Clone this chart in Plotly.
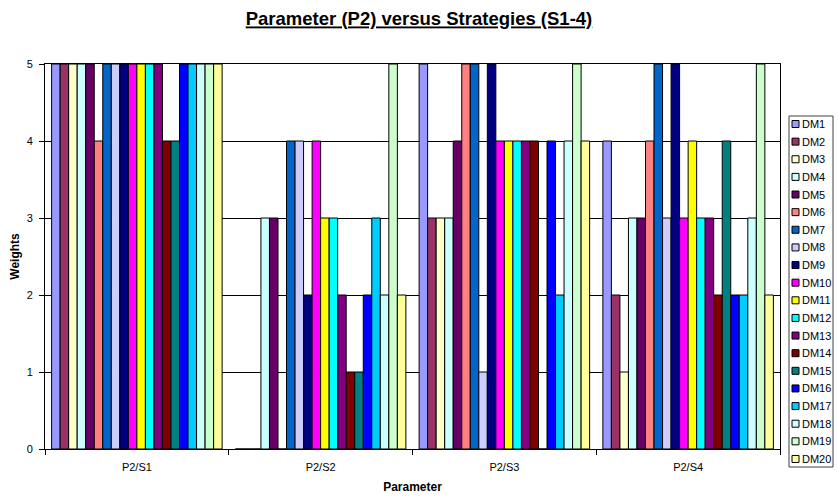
import plotly.graph_objects as go

categories = ["P2/S1", "P2/S2", "P2/S3", "P2/S4"]
series_names = [f"DM{i}" for i in range(1, 21)]

# values per DM across the four categories
DM1 = [5, 0, 5, 4]
DM2 = [5, 0, 3, 2]
DM3 = [5, 0, 3, 1]
DM4 = [5, 3, 3, 3]
DM5 = [5, 3, 4, 3]
DM6 = [4, 0, 5, 4]
DM7 = [5, 4, 5, 5]
DM8 = [5, 4, 1, 3]
DM9 = [5, 2, 5, 5]
DM10 = [5, 4, 4, 3]
DM11 = [5, 3, 4, 4]
DM12 = [5, 3, 4, 3]
DM13 = [5, 2, 4, 3]
DM14 = [4, 1, 4, 2]
DM15 = [4, 1, 0, 4]
DM16 = [5, 2, 4, 2]
DM17 = [5, 3, 2, 2]
DM18 = [5, 2, 4, 3]
DM19 = [5, 5, 5, 5]
DM20 = [5, 2, 4, 2]

series_values = [DM1, DM2, DM3, DM4, DM5, DM6, DM7, DM8, DM9, DM10,
                 DM11, DM12, DM13, DM14, DM15, DM16, DM17, DM18, DM19, DM20]

colors = ["#9999FF", "#993366", "#FFFFCC", "#CCFFFF", "#660066", "#FF8080",
          "#0066CC", "#CCCCFF", "#000080", "#FF00FF", "#FFFF00", "#00FFFF",
          "#800080", "#800000", "#008080", "#0000FF", "#00CCFF", "#CCFFFF",
          "#CCFFCC", "#FFFF99"]

FONT = "Liberation Sans, Arial, sans-serif"

W, H = 838, 498
ML, MR, MT, MB = 45, 58, 64, 49
PW = W - ML - MR
PH = H - MT - MB


def px_x(px):
    return (px - ML) / PW


def px_y(py):
    return (H - MB - py) / PH


fig = go.Figure()
for name, vals, col in zip(series_names, series_values, colors):
    fig.add_trace(go.Bar(
        name=name, x=categories, y=vals,
        marker=dict(color=col, line=dict(color="black", width=1)),
        showlegend=False,
    ))

# compact Excel-style legend built from the series names/colours
shapes = []
annotations = []
LEG_L, LEG_R, LEG_T, LEG_B = 789, 833, 116, 467
shapes.append(dict(type="rect", xref="paper", yref="paper",
                   x0=px_x(LEG_L), x1=px_x(LEG_R), y0=px_y(LEG_B), y1=px_y(LEG_T),
                   line=dict(color="#404040", width=1), fillcolor="white", layer="above"))
first_y, step = 124, 17.63
for i, (name, col) in enumerate(zip(series_names, colors)):
    cy = first_y + i * step
    shapes.append(dict(type="rect", xref="paper", yref="paper",
                       x0=px_x(792), x1=px_x(799), y0=px_y(cy + 3.5), y1=px_y(cy - 3.5),
                       line=dict(color="black", width=1), fillcolor=col, layer="above"))
    annotations.append(dict(text=name, xref="paper", yref="paper",
                            x=px_x(800), y=px_y(cy), xanchor="left", yanchor="middle",
                            showarrow=False, font=dict(family=FONT, size=11, color="black")))

fig.update_layout(
    width=W, height=H,
    barmode="group", bargap=0.072, bargroupgap=0,
    paper_bgcolor="white", plot_bgcolor="white",
    margin=dict(l=ML, r=MR, t=MT, b=MB, autoexpand=False),
    font=dict(family=FONT, size=11, color="black"),
    title=dict(
        text="<b><u>Parameter (P2) versus Strategies (S1-4)</u></b>",
        x=0.5, xref="container", xanchor="center",
        y=1 - 19 / H, yref="container", yanchor="middle",
        font=dict(family=FONT, size=18.5, color="black"),
    ),
    showlegend=False,
    shapes=shapes,
    annotations=annotations,
)

fig.update_xaxes(
    title=dict(text="<b>Parameter</b>", font=dict(family=FONT, size=12), standoff=10),
    showline=True, linecolor="black", linewidth=1, mirror=True,
    ticks="outside", tickson="boundaries", ticklen=5, tickcolor="black",
    ticklabelstandoff=8,
    showgrid=False, automargin=False,
    tickfont=dict(family=FONT, size=11),
)
fig.update_yaxes(
    title=dict(text="<b>Weights</b>", font=dict(family=FONT, size=12), standoff=4),
    range=[0, 5], dtick=1, tick0=0,
    showline=True, linecolor="black", linewidth=1, mirror=True,
    ticks="outside", ticklen=5, tickcolor="black",
    ticklabelstandoff=4,
    showgrid=True, gridcolor="black", gridwidth=1,
    zeroline=False, automargin=False,
    tickfont=dict(family=FONT, size=11),
)

fig.write_html("out.html", config={"displayModeBar": False},
               post_script="document.body.style.margin='0';")
